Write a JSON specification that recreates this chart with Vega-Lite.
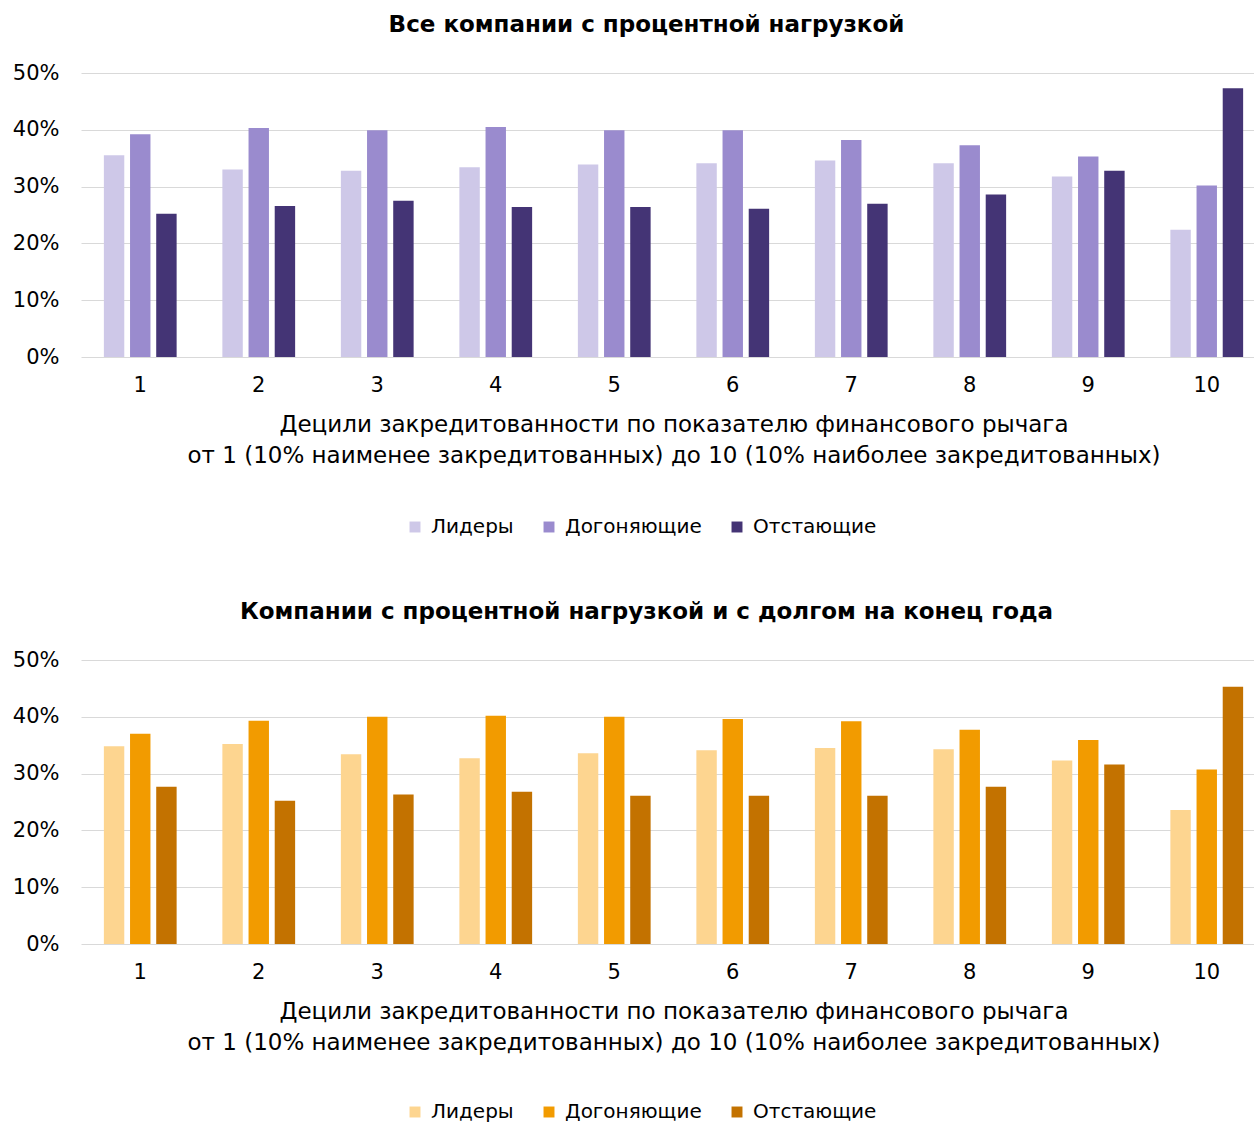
{
  "$schema": "https://vega.github.io/schema/vega-lite/v6.json",
  "background": "white",
  "padding": {"left": 12, "top": 14, "right": 0, "bottom": 0},
  "datasets": {
    "top": [
      {"decile": 1, "group": "Лидеры", "value": 0.355}, {"decile": 1, "group": "Догоняющие", "value": 0.392}, {"decile": 1, "group": "Отстающие", "value": 0.252},
      {"decile": 2, "group": "Лидеры", "value": 0.330}, {"decile": 2, "group": "Догоняющие", "value": 0.403}, {"decile": 2, "group": "Отстающие", "value": 0.266},
      {"decile": 3, "group": "Лидеры", "value": 0.328}, {"decile": 3, "group": "Догоняющие", "value": 0.399}, {"decile": 3, "group": "Отстающие", "value": 0.275},
      {"decile": 4, "group": "Лидеры", "value": 0.334}, {"decile": 4, "group": "Догоняющие", "value": 0.405}, {"decile": 4, "group": "Отстающие", "value": 0.264},
      {"decile": 5, "group": "Лидеры", "value": 0.339}, {"decile": 5, "group": "Догоняющие", "value": 0.399}, {"decile": 5, "group": "Отстающие", "value": 0.264},
      {"decile": 6, "group": "Лидеры", "value": 0.341}, {"decile": 6, "group": "Догоняющие", "value": 0.399}, {"decile": 6, "group": "Отстающие", "value": 0.261},
      {"decile": 7, "group": "Лидеры", "value": 0.346}, {"decile": 7, "group": "Догоняющие", "value": 0.382}, {"decile": 7, "group": "Отстающие", "value": 0.270},
      {"decile": 8, "group": "Лидеры", "value": 0.341}, {"decile": 8, "group": "Догоняющие", "value": 0.373}, {"decile": 8, "group": "Отстающие", "value": 0.286},
      {"decile": 9, "group": "Лидеры", "value": 0.318}, {"decile": 9, "group": "Догоняющие", "value": 0.353}, {"decile": 9, "group": "Отстающие", "value": 0.328},
      {"decile": 10, "group": "Лидеры", "value": 0.224}, {"decile": 10, "group": "Догоняющие", "value": 0.302}, {"decile": 10, "group": "Отстающие", "value": 0.473}
    ],
    "bottom": [
      {"decile": 1, "group": "Лидеры", "value": 0.348}, {"decile": 1, "group": "Догоняющие", "value": 0.370}, {"decile": 1, "group": "Отстающие", "value": 0.277},
      {"decile": 2, "group": "Лидеры", "value": 0.352}, {"decile": 2, "group": "Догоняющие", "value": 0.393}, {"decile": 2, "group": "Отстающие", "value": 0.252},
      {"decile": 3, "group": "Лидеры", "value": 0.334}, {"decile": 3, "group": "Догоняющие", "value": 0.400}, {"decile": 3, "group": "Отстающие", "value": 0.263},
      {"decile": 4, "group": "Лидеры", "value": 0.327}, {"decile": 4, "group": "Догоняющие", "value": 0.402}, {"decile": 4, "group": "Отстающие", "value": 0.268},
      {"decile": 5, "group": "Лидеры", "value": 0.336}, {"decile": 5, "group": "Догоняющие", "value": 0.400}, {"decile": 5, "group": "Отстающие", "value": 0.261},
      {"decile": 6, "group": "Лидеры", "value": 0.341}, {"decile": 6, "group": "Догоняющие", "value": 0.396}, {"decile": 6, "group": "Отстающие", "value": 0.261},
      {"decile": 7, "group": "Лидеры", "value": 0.345}, {"decile": 7, "group": "Догоняющие", "value": 0.392}, {"decile": 7, "group": "Отстающие", "value": 0.261},
      {"decile": 8, "group": "Лидеры", "value": 0.343}, {"decile": 8, "group": "Догоняющие", "value": 0.377}, {"decile": 8, "group": "Отстающие", "value": 0.277},
      {"decile": 9, "group": "Лидеры", "value": 0.323}, {"decile": 9, "group": "Догоняющие", "value": 0.359}, {"decile": 9, "group": "Отстающие", "value": 0.316},
      {"decile": 10, "group": "Лидеры", "value": 0.236}, {"decile": 10, "group": "Догоняющие", "value": 0.307}, {"decile": 10, "group": "Отстающие", "value": 0.453}
    ]
  },
  "config": {
    "font": "DejaVu Sans",
    "view": {"stroke": null},
    "title": {"font": "DejaVu Sans", "fontSize": 23, "fontWeight": "bold", "color": "#000000", "offset": 25, "anchor": "middle", "dx": -27},
    "axis": {"labelFont": "DejaVu Sans", "titleFont": "DejaVu Sans", "labelColor": "#000000", "titleColor": "#000000"},
    "legend": {"labelFont": "DejaVu Sans", "labelColor": "#000000"},
    "concat": {"spacing": 64}
  },
  "resolve": {"scale": {"color": "independent"}, "legend": {"color": "independent"}},
  "vconcat": [
    {
      "title": "Все компании с процентной нагрузкой",
      "width": 1185,
      "height": 284,
      "data": {"name": "top"},
      "mark": {"type": "bar"},
      "encoding": {
        "x": {
          "field": "decile", "type": "ordinal",
          "scale": {"paddingInner": 0.386, "paddingOuter": 0.193},
          "axis": {
            "title": ["Децили  закредитованности по показателю финансового рычага", "от 1 (10% наименее  закредитованных) до 10 (10% наиболее закредитованных)"],
            "labelAngle": 0, "labelFontSize": 21, "labelPadding": 17, "ticks": false,
            "domain": false, "titleFontSize": 23, "titleFontWeight": "normal", "titlePadding": 18, "titleLineHeight": 31
          }
        },
        "xOffset": {"field": "group", "type": "nominal", "sort": ["Лидеры", "Догоняющие", "Отстающие"], "scale": {"paddingInner": 0.22, "paddingOuter": 0}},
        "y": {
          "field": "value", "type": "quantitative",
          "scale": {"domain": [0, 0.5]},
          "axis": {"title": null, "format": ".0%", "values": [0, 0.1, 0.2, 0.3, 0.4, 0.5], "labelFontSize": 21, "labelPadding": 22, "ticks": false, "domain": false, "gridColor": "#d9d9d9", "gridWidth": 1}
        },
        "color": {
          "field": "group", "type": "nominal",
          "scale": {"domain": ["Лидеры", "Догоняющие", "Отстающие"], "range": ["#CEC8E8", "#9A8BCE", "#443475"]},
          "legend": {"title": null, "orient": "none", "direction": "horizontal", "legendX": 324, "legendY": 444, "symbolType": "square", "symbolSize": 120, "labelFontSize": 20, "columnPadding": 25, "labelOffset": 6}
        }
      }
    },
    {
      "title": "Компании с процентной нагрузкой и с долгом на конец года",
      "width": 1185,
      "height": 284,
      "data": {"name": "bottom"},
      "mark": {"type": "bar"},
      "encoding": {
        "x": {
          "field": "decile", "type": "ordinal",
          "scale": {"paddingInner": 0.386, "paddingOuter": 0.193},
          "axis": {
            "title": ["Децили  закредитованности по показателю финансового рычага", "от 1 (10% наименее  закредитованных) до 10 (10% наиболее закредитованных)"],
            "labelAngle": 0, "labelFontSize": 21, "labelPadding": 17, "ticks": false,
            "domain": false, "titleFontSize": 23, "titleFontWeight": "normal", "titlePadding": 18, "titleLineHeight": 31
          }
        },
        "xOffset": {"field": "group", "type": "nominal", "sort": ["Лидеры", "Догоняющие", "Отстающие"], "scale": {"paddingInner": 0.22, "paddingOuter": 0}},
        "y": {
          "field": "value", "type": "quantitative",
          "scale": {"domain": [0, 0.5]},
          "axis": {"title": null, "format": ".0%", "values": [0, 0.1, 0.2, 0.3, 0.4, 0.5], "labelFontSize": 21, "labelPadding": 22, "ticks": false, "domain": false, "gridColor": "#d9d9d9", "gridWidth": 1}
        },
        "color": {
          "field": "group", "type": "nominal",
          "scale": {"domain": ["Лидеры", "Догоняющие", "Отстающие"], "range": ["#FDD590", "#F29B00", "#C37200"]},
          "legend": {"title": null, "orient": "none", "direction": "horizontal", "legendX": 324, "legendY": 442, "symbolType": "square", "symbolSize": 120, "labelFontSize": 20, "columnPadding": 25, "labelOffset": 6}
        }
      }
    }
  ]
}
